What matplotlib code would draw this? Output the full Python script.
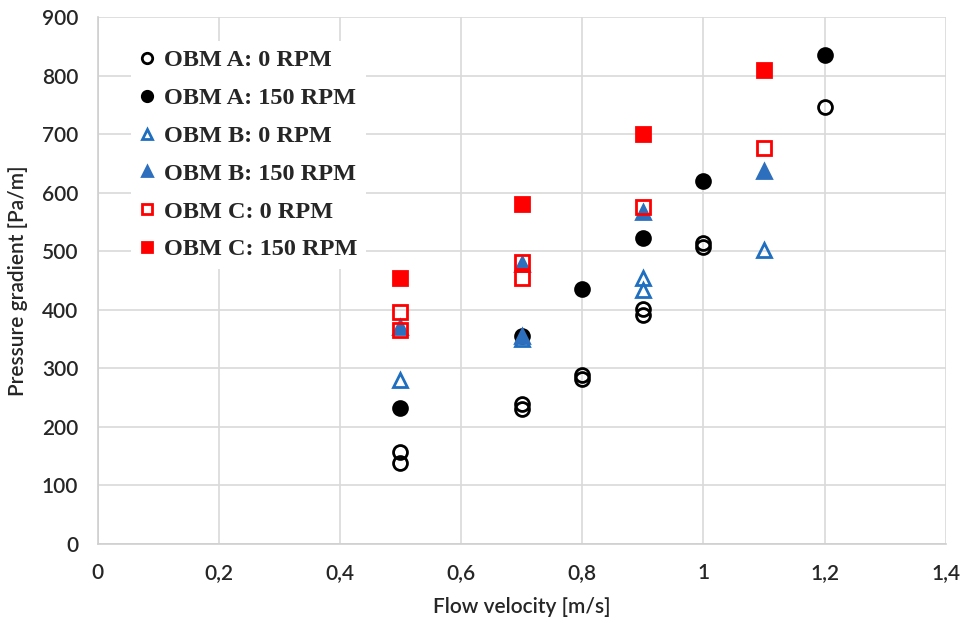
import matplotlib
matplotlib.use('Agg')
import matplotlib.pyplot as plt
from matplotlib.ticker import FuncFormatter, MultipleLocator

# Presión vs velocidad para los tres lodos base aceite
a0_x = [0.5, 0.5, 0.7, 0.7, 0.8, 0.8, 0.9, 0.9, 1.0, 1.0, 1.2]
a0_y = [138, 158, 230, 239, 282, 288, 392, 402, 508, 514, 746]
a150_x = [0.5, 0.7, 0.8, 0.9, 1.0, 1.2]
a150_y = [233, 355, 435, 523, 620, 836]
b0_x = [0.5, 0.7, 0.9, 0.9, 1.1]
b0_y = [280, 350, 434, 455, 502]
b150_x = [0.5, 0.7, 0.7, 0.9, 1.1]
b150_y = [370, 355, 478, 567, 637]
c0_x = [0.5, 0.5, 0.7, 0.7, 0.9, 1.1]
c0_y = [365, 396, 455, 481, 576, 676]
c150_x = [0.5, 0.7, 0.9, 1.1]
c150_y = [455, 580, 700, 810]

blue = '#1f6fc0'
red = '#ff0000'

series = [
    (a0_x, a0_y, 'o', 'none', 'black', 'OBM A: 0 RPM'),
    (a150_x, a150_y, 'o', 'black', 'black', 'OBM A: 150 RPM'),
    (b0_x, b0_y, '^', 'none', blue, 'OBM B: 0 RPM'),
    (b150_x, b150_y, '^', '#2e6fbd', '#2e6fbd', 'OBM B: 150 RPM'),
    (c0_x, c0_y, 's', 'none', red, 'OBM C: 0 RPM'),
    (c150_x, c150_y, 's', red, red, 'OBM C: 150 RPM'),
]

fig = plt.figure(figsize=(9.66, 6.25), dpi=100)
ax = fig.add_axes([0.101, 0.1296, 0.878, 0.843])

for xs, ys, m, fc, ec, lab in series:
    ax.plot(xs, ys, linestyle='none', marker=m, markersize=10,
            markerfacecolor=fc, markeredgecolor=ec, markeredgewidth=2,
            label=lab, zorder=3)

ax.set_xlim(0, 1.4)
ax.set_ylim(0, 900)
ax.xaxis.set_major_locator(MultipleLocator(0.2))
ax.yaxis.set_major_locator(MultipleLocator(100))
ax.xaxis.set_major_formatter(FuncFormatter(lambda v, p: '{:g}'.format(round(v, 2)).replace('.', ',')))

ax.grid(True, color='#d9d9d9', linewidth=1.2, zorder=0)
ax.set_axisbelow(True)
for s in ['top', 'right']:
    ax.spines[s].set_visible(False)
for s in ['bottom', 'left']:
    ax.spines[s].set_color('#cfcfcf')
    ax.spines[s].set_linewidth(1.2)
ax.tick_params(length=0, pad=14)

tick_font = ['Lato', 'DejaVu Sans']
for t in ax.get_xticklabels() + ax.get_yticklabels():
    t.set_family(tick_font)
    t.set_fontsize(15)
    t.set_fontweight('semibold')
    t.set_color('#262626')
ax.set_xlabel('Flow velocity [m/s]', family=tick_font, fontsize=15, fontweight='semibold',
              color='#262626', labelpad=10)
ax.set_ylabel('Pressure gradient [Pa/m]', family=tick_font, fontsize=15, fontweight='semibold',
              color='#262626', labelpad=10)

leg = ax.legend(loc='upper left', bbox_to_anchor=(0.025, 0.978), frameon=True,
                prop={'family': 'Liberation Serif', 'weight': 'bold', 'size': 17.5},
                handlelength=0.6, handletextpad=0.4, labelspacing=0.65,
                markerscale=0.75, borderpad=0.35)
leg.get_frame().set_edgecolor('none')
leg.get_frame().set_facecolor('white')
leg.get_frame().set_alpha(1)
for t in leg.get_texts():
    t.set_color('#262626')

fig.savefig('out.png', dpi=100)
